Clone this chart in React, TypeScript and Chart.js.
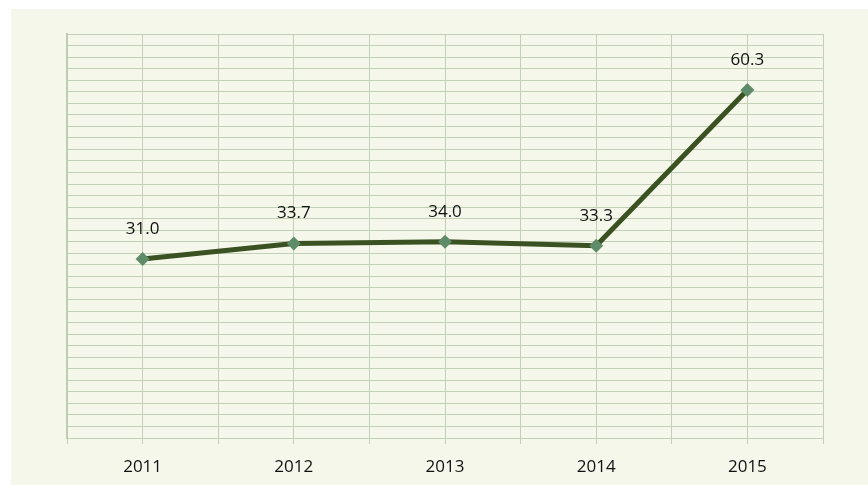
import React, { useEffect, useRef } from "react";
import { Chart, registerables } from "chart.js";

Chart.register(...registerables);

const categories = ["2011", "2012", "2013", "2014", "2015"];
const values = [31.0, 33.7, 34.0, 33.3, 60.3];
const yMin = 0;
const yMax = 70;
const yStep = 2;

const FONT = "'Open Sans', 'Noto Sans', sans-serif";
const FONT_SIZE = 17;

const dataLabelPlugin = {
  id: "dataLabels",
  afterDatasetsDraw(chart: any) {
    const ctx = chart.ctx;
    const meta = chart.getDatasetMeta(0);
    ctx.save();
    ctx.font = `${FONT_SIZE}px ${FONT}`;
    ctx.fillStyle = "#111111";
    ctx.textAlign = "center";
    ctx.textBaseline = "middle";
    meta.data.forEach((pt: any, i: number) => {
      ctx.fillText(values[i].toFixed(1), pt.x, pt.y - 30);
    });
    ctx.restore();
  },
};

export default function App() {
  const ref = useRef<HTMLCanvasElement | null>(null);

  useEffect(() => {
    if (!ref.current) return;
    const chart = new Chart(ref.current, {
      type: "line",
      data: {
        datasets: [
          {
            data: values.map((v, i) => ({ x: 2 * i + 1, y: v })),
            borderColor: "#3a5222",
            borderWidth: 5,
            pointStyle: "rectRot",
            pointRadius: 7,
            pointHoverRadius: 7,
            pointBackgroundColor: "#5e8c68",
            pointBorderColor: "#5e8c68",
            pointBorderWidth: 0,
            tension: 0,
          },
        ],
      },
      options: {
        animation: false,
        responsive: false,
        maintainAspectRatio: false,
        layout: { padding: { top: 25, left: 56, right: 45, bottom: 0 } },
        plugins: { legend: { display: false }, tooltip: { enabled: false }, title: { display: false } },
        scales: {
          x: {
            type: "linear",
            min: 0,
            max: categories.length * 2,
            afterFit: (s: any) => {
              s.height = 47;
            },
            grid: {
              color: "#c3d0b8",
              lineWidth: 1,
              drawTicks: true,
              tickLength: 6,
            },
            border: { color: "#c3d0b8", width: 1 },
            ticks: {
              stepSize: 1,
              autoSkip: false,
              maxRotation: 0,
              padding: 13,
              color: "#111111",
              font: { family: FONT, size: FONT_SIZE },
              callback: (v: any) => {
                const n = Number(v);
                if (n % 2 === 1) return categories[(n - 1) / 2];
                return "";
              },
            },
          },
          y: {
            min: yMin,
            max: yMax,
            afterFit: (s: any) => {
              s.width = 0;
            },
            grid: { color: "#c3d0b8", lineWidth: 1, drawTicks: false },
            border: { color: "#bfccb3", width: 2 },
            ticks: { display: false, stepSize: yStep },
          },
        },
      },
      plugins: [dataLabelPlugin],
    } as any);
    return () => chart.destroy();
  }, []);

  return (
    <div
      style={{
        position: "absolute",
        left: 11,
        top: 9,
        width: 857,
        height: 476,
        background: "rgb(245,247,234)",
      }}
    >
      <canvas ref={ref} width={857} height={476} style={{ display: "block" }} />
    </div>
  );
}
